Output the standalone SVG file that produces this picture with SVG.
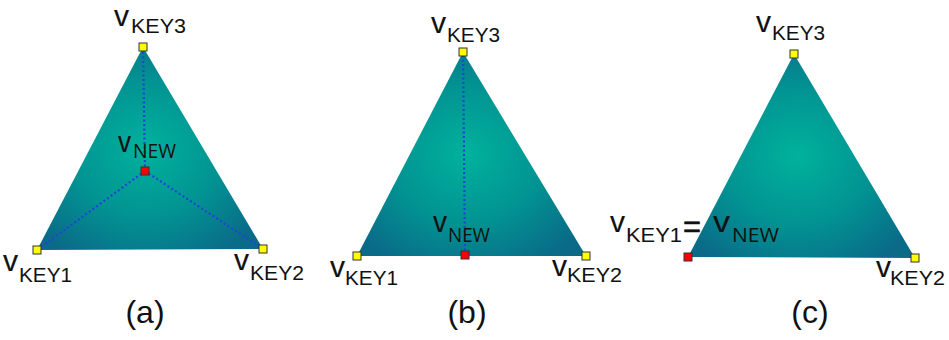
<svg xmlns="http://www.w3.org/2000/svg" width="949" height="340" viewBox="0 0 949 340">
<defs>
<radialGradient id="g" cx="0.48" cy="0.5" r="0.62">
<stop offset="0" stop-color="#00b29c"/>
<stop offset="0.55" stop-color="#029292"/>
<stop offset="1" stop-color="#0a6a88"/>
</radialGradient>
</defs>
<style>
text{font-family:"Liberation Sans",Arial,sans-serif;fill:#111}
.v{font-size:29px;stroke:#111;stroke-width:0.15}
.eq{font-size:32px;stroke:#111;stroke-width:0.6}
.s{font-size:20px}
.n{font-size:20px;font-family:"Open Sans","Liberation Sans",sans-serif}
.cap{font-size:32px;text-anchor:middle}
.tri{fill:url(#g)}
.y{fill:#ffff00;stroke:#333;stroke-width:1}
.r{fill:#ff0000;stroke:#333;stroke-width:1}
.d{stroke:#1f45d8;stroke-width:2.2;stroke-dasharray:2 2.5;fill:none}
</style>

<g id="panel-a">
<polygon class="tri" points="143,47 37,250 263,249"/>
</g>
<g id="panel-b">
<polygon class="tri" points="463,52 357,256 586,256"/>
</g>
<g id="panel-c">
<polygon class="tri" points="794,54 688,257 915,258"/>
</g>

<g id="connectors">
<line class="d" x1="145" y1="171" x2="143" y2="47"/>
<line class="d" x1="145" y1="171" x2="37" y2="250"/>
<line class="d" x1="145" y1="171" x2="263" y2="249"/>
<line class="d" x1="465" y1="255" x2="463" y2="52"/>
</g>

<g id="a-key3"><rect class="y" x="139" y="43" width="8" height="8"/>
<text><tspan class="v" x="114" y="26" textLength="15" lengthAdjust="spacingAndGlyphs">v</tspan><tspan class="s" x="131" y="33" textLength="55" lengthAdjust="spacingAndGlyphs">KEY3</tspan></text></g>
<g id="a-key1"><rect class="y" x="33" y="246" width="8" height="8"/>
<text><tspan class="v" x="3" y="271" textLength="15" lengthAdjust="spacingAndGlyphs">v</tspan><tspan class="s" x="19" y="282" textLength="53" lengthAdjust="spacingAndGlyphs">KEY1</tspan></text></g>
<g id="a-key2"><rect class="y" x="259" y="245" width="8" height="8"/>
<text><tspan class="v" x="234" y="270" textLength="15" lengthAdjust="spacingAndGlyphs">v</tspan><tspan class="s" x="250" y="280" textLength="54" lengthAdjust="spacingAndGlyphs">KEY2</tspan></text></g>
<g id="a-new"><rect class="r" x="141" y="167" width="8" height="8"/>
<text><tspan class="v" x="118" y="152" textLength="13" lengthAdjust="spacingAndGlyphs">v</tspan><tspan class="n" x="133" y="158" textLength="43" lengthAdjust="spacingAndGlyphs">NEW</tspan></text></g>
<text class="cap" x="145" y="323">(a)</text>

<g id="b-key3"><rect class="y" x="459" y="48" width="8" height="8"/>
<text><tspan class="v" x="431" y="33" textLength="15" lengthAdjust="spacingAndGlyphs">v</tspan><tspan class="s" x="447" y="42" textLength="53" lengthAdjust="spacingAndGlyphs">KEY3</tspan></text></g>
<g id="b-key1"><rect class="y" x="353" y="252" width="8" height="8"/>
<text><tspan class="v" x="330" y="277" textLength="15" lengthAdjust="spacingAndGlyphs">v</tspan><tspan class="s" x="345" y="285" textLength="53" lengthAdjust="spacingAndGlyphs">KEY1</tspan></text></g>
<g id="b-key2"><rect class="y" x="582" y="252" width="8" height="8"/>
<text><tspan class="v" x="552" y="276" textLength="15" lengthAdjust="spacingAndGlyphs">v</tspan><tspan class="s" x="567" y="282" textLength="55" lengthAdjust="spacingAndGlyphs">KEY2</tspan></text></g>
<g id="b-new"><rect class="r" x="461" y="251" width="8" height="8"/>
<text><tspan class="v" x="433" y="232" textLength="14" lengthAdjust="spacingAndGlyphs">v</tspan><tspan class="n" x="448" y="242" textLength="42" lengthAdjust="spacingAndGlyphs">NEW</tspan></text></g>
<text class="cap" x="467" y="323">(b)</text>

<g id="c-key3"><rect class="y" x="790" y="50" width="8" height="8"/>
<text><tspan class="v" x="756" y="32" textLength="15" lengthAdjust="spacingAndGlyphs">v</tspan><tspan class="s" x="772" y="40" textLength="53" lengthAdjust="spacingAndGlyphs">KEY3</tspan></text></g>
<g id="c-key1-new"><rect class="r" x="684" y="253" width="8" height="8"/>
<text><tspan class="v" x="610" y="232" textLength="15" lengthAdjust="spacingAndGlyphs">v</tspan><tspan class="s" x="626" y="242" textLength="56" lengthAdjust="spacingAndGlyphs">KEY1</tspan><tspan class="eq" x="683" y="237" textLength="18" lengthAdjust="spacingAndGlyphs">=</tspan><tspan class="v" x="713" y="232" textLength="17" lengthAdjust="spacingAndGlyphs">v</tspan><tspan class="n" x="732" y="242" textLength="47" lengthAdjust="spacingAndGlyphs">NEW</tspan></text></g>
<g id="c-key2"><rect class="y" x="911" y="254" width="8" height="8"/>
<text><tspan class="v" x="876" y="277" textLength="15" lengthAdjust="spacingAndGlyphs">v</tspan><tspan class="s" x="890" y="285" textLength="55" lengthAdjust="spacingAndGlyphs">KEY2</tspan></text></g>
<text class="cap" x="810" y="323">(c)</text>
</svg>
